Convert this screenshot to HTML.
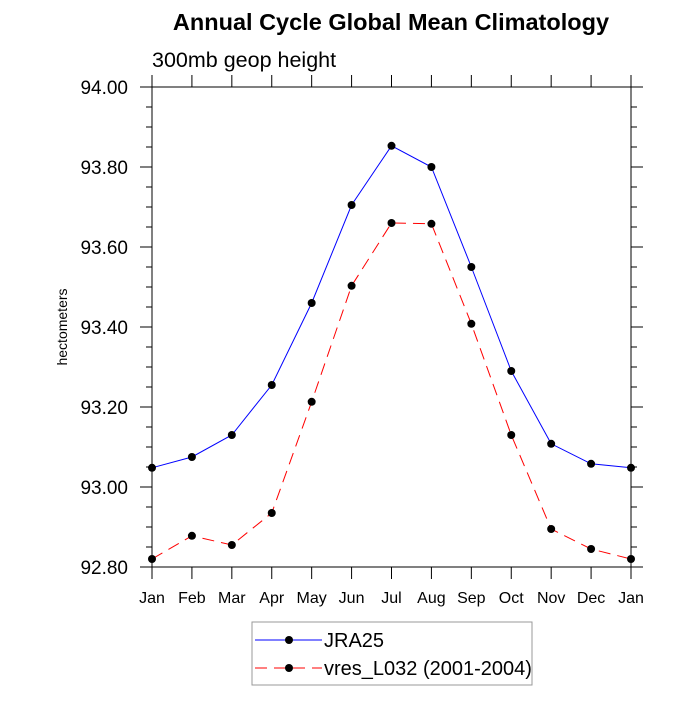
<!DOCTYPE html>
<html><head><meta charset="utf-8"><style>
body{margin:0;background:#fff;}
svg text{font-family:"Liberation Sans",sans-serif;}
</style></head><body>
<svg width="700" height="700" xmlns="http://www.w3.org/2000/svg">
<text x="391" y="30" text-anchor="middle" font-size="23.5" font-weight="bold">Annual Cycle Global Mean Climatology</text>
<text x="152" y="67" font-size="21.5">300mb geop height</text>
<text transform="translate(67,327) rotate(-90)" text-anchor="middle" font-size="14">hectometers</text>
<g id="axes"></g>
<g id="series"></g>
<g>
<rect x="252" y="622" width="280" height="63" fill="#fff" stroke="#999" stroke-width="1"/>
<g>
<line x1="255" y1="640" x2="322" y2="640" stroke="#0000ff" stroke-width="1"/>
<circle cx="289" cy="640" r="4" fill="#000"/>
<text x="324" y="647" font-size="20">JRA25</text>
</g>
<g>
<line x1="255" y1="668" x2="322" y2="668" stroke="#ff0000" stroke-width="1" stroke-dasharray="12,7"/>
<circle cx="289" cy="668" r="4" fill="#000"/>
<text x="324" y="675" font-size="20">vres_L032 (2001-2004)</text>
</g>
</g>
</svg>
<script>
const months=["Jan","Feb","Mar","Apr","May","Jun","Jul","Aug","Sep","Oct","Nov","Dec","Jan"];
const jra25=[93.048,93.075,93.13,93.255,93.46,93.705,93.853,93.80,93.55,93.29,93.108,93.058,93.048];
const vres=[92.82,92.878,92.855,92.935,93.213,93.503,93.66,93.658,93.408,93.13,92.895,92.845,92.82];
const yTicks=[92.8,93.0,93.2,93.4,93.6,93.8,94.0];
const yTickLabels=["92.80","93.00","93.20","93.40","93.60","93.80","94.00"];
const L=152,R=631,T=87,B=567,ymin=92.8,ymax=94.0;
const xs=i=>L+(R-L)*i/(months.length-1);
const ys=v=>B-(v-ymin)/(ymax-ymin)*(B-T);
const NS="http://www.w3.org/2000/svg";
function mk(tag,attrs,parent){const e=document.createElementNS(NS,tag);for(const k in attrs)e.setAttribute(k,attrs[k]);parent.appendChild(e);return e;}
const ax=document.getElementById('axes');
const frame=mk('rect',{x:L,y:T,width:R-L,height:B-T,fill:'none',stroke:'#000','stroke-width':1},ax);


months.forEach((m,i)=>{
  const x=xs(i);
  mk('line',{x1:x,y1:B,x2:x,y2:B+12,stroke:'#000'},ax);
  mk('line',{x1:x,y1:T,x2:x,y2:T-12,stroke:'#000'},ax);
  const t=mk('text',{x:x,y:603,'text-anchor':'middle','font-size':16},ax);
  t.textContent=m;
  
  
});
for(let v=ymin;v<=ymax+1e-9;v+=0.05){
  const y=ys(v);const major=Math.abs(Math.round(v*5)-v*5)<1e-6;const len=major?12:6;
  mk('line',{x1:L,y1:y,x2:L-len,y2:y,stroke:'#000'},ax);
  mk('line',{x1:R,y1:y,x2:R+len,y2:y,stroke:'#000'},ax);
}
yTicks.forEach((v,i)=>{
  const t=mk('text',{x:128,y:ys(v)+7,'text-anchor':'end','font-size':19},ax);
  t.textContent=yTickLabels[i];
  
  
});
const sg=document.getElementById('series');
function draw(vals,color,dash,name){
  const g=mk('g',{},sg);
  
  
  const p=mk('polyline',{points:vals.map((v,i)=>xs(i)+','+ys(v)).join(' '),fill:'none',stroke:color,'stroke-width':1},g);
  if(dash)p.setAttribute('stroke-dasharray',dash);
  vals.forEach((v,i)=>{
    const c=mk('circle',{cx:xs(i),cy:ys(v),r:4,fill:'#000'},g);
    
    
  });
}
draw(jra25,'#0000ff',null,'series-jra25');
draw(vres,'#ff0000','12,7','series-vres');
</script>
</body></html>
